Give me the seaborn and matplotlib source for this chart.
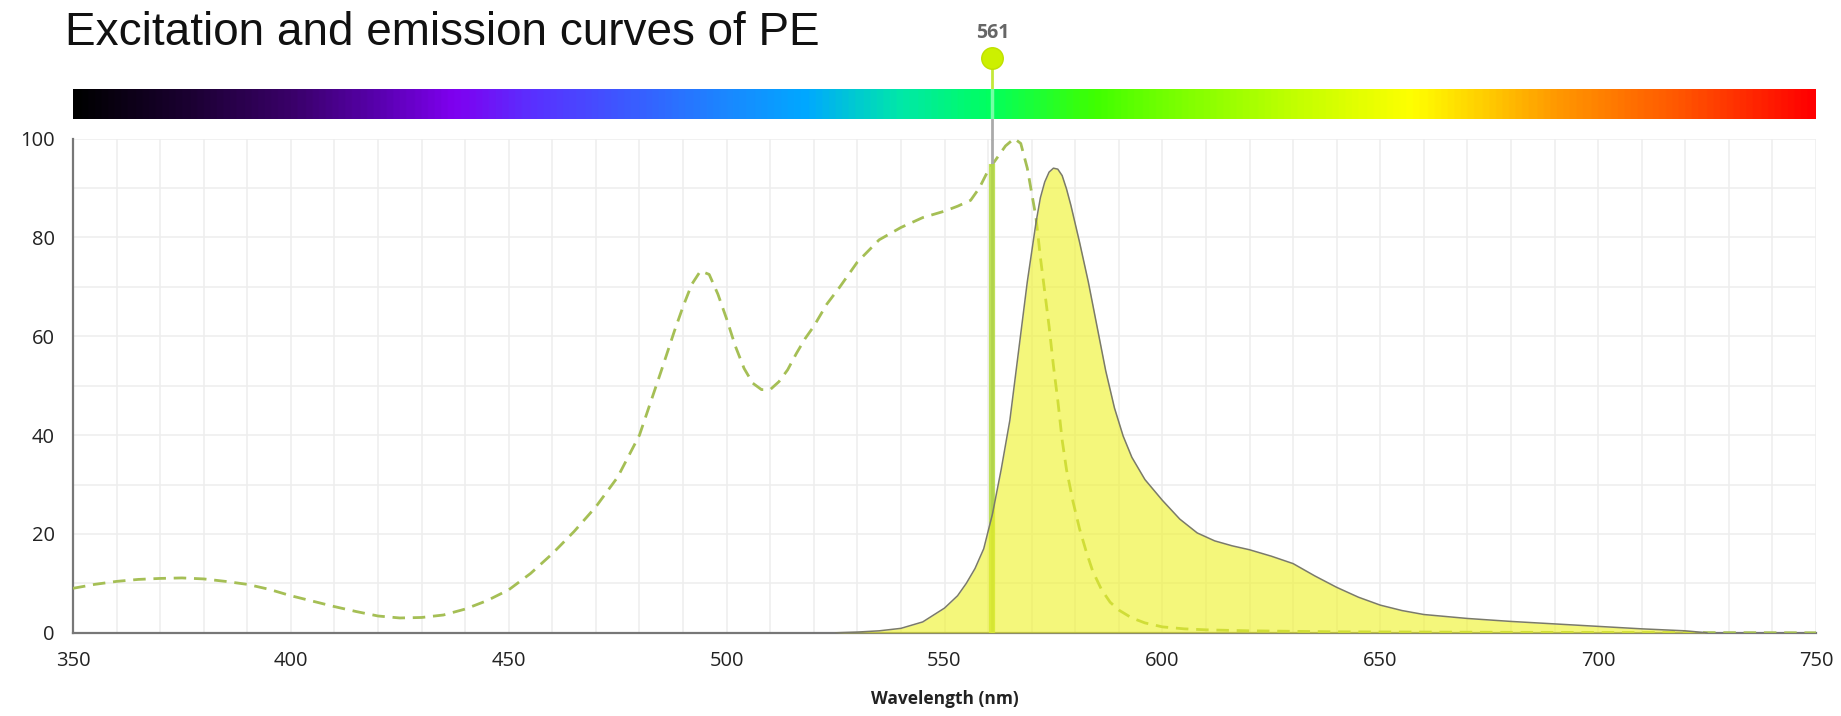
import numpy as np
import pandas as pd
import matplotlib
matplotlib.use("Agg")
import matplotlib.pyplot as plt
from matplotlib.colors import LinearSegmentedColormap
from matplotlib.ticker import MultipleLocator
import seaborn as sns

# ---------------- data ----------------
title = "Excitation and emission curves of PE"
x_label = "Wavelength (nm)"
laser_nm = 561
laser_label = "561"

ex_nm = [350, 355, 360, 365, 370, 375, 380, 385, 390, 395, 400, 405, 410, 415,
         420, 425, 430, 435, 440, 445, 450, 455, 460, 465, 470, 475, 480, 485,
         488, 490, 492, 494, 496, 498, 500, 502, 504, 506, 508, 510, 512, 514,
         516, 518, 520, 523, 526, 530, 535, 540, 545, 550, 553, 556, 558, 560,
         562, 564, 566, 567.5, 569, 570, 571, 572, 573, 574, 575, 576, 577, 578,
         579.5, 581, 582.5, 584, 586, 588, 590, 593, 596, 600, 605, 610, 620,
         640, 680, 750]
ex_val = [9.0, 9.8, 10.4, 10.8, 11.0, 11.1, 10.9, 10.4, 9.8, 8.8, 7.5, 6.4, 5.3, 4.3,
          3.4, 3.0, 3.1, 3.6, 4.8, 6.5, 8.7, 12.0, 16.0, 20.5, 25.5, 31.5, 40.0, 53.0,
          61.0, 66.0, 70.5, 73.2, 72.5, 68.5, 63.5, 58.0, 53.5, 50.5, 49.2, 49.2, 50.8, 53.2,
          56.5, 59.5, 62.0, 66.5, 70.0, 75.0, 79.5, 82.0, 84.0, 85.3, 86.3, 87.5, 90.0, 93.5,
          96.0, 98.5, 100.0, 99.0, 94.0, 89.0, 84.0, 76.0, 69.0, 62.0, 54.0, 47.0, 39.0, 33.0,
          26.5, 21.0, 16.5, 12.5, 8.8, 6.2, 4.6, 3.0, 2.0, 1.2, 0.8, 0.6, 0.4,
          0.2, 0.1, 0.0]

em_nm = [525, 530, 535, 540, 545, 550, 553, 555, 557, 559, 561, 563, 565, 567, 569,
         571, 572, 573, 574, 575, 576, 577, 578, 579, 581, 583, 585, 587, 589, 591,
         593, 596, 600, 604, 608, 612, 616, 620, 625, 630, 635, 640, 645, 650, 655,
         660, 670, 680, 690, 700, 710, 720, 725]
em_val = [0.0, 0.15, 0.4, 0.9, 2.2, 5.0, 7.5, 10.0, 13.0, 17.0, 24.0, 33.0, 43.0, 57.0, 71.0,
          83.0, 88.0, 91.2, 93.2, 94.0, 93.8, 92.5, 89.8, 86.5, 79.0, 71.0, 62.0, 53.0, 45.5, 39.8,
          35.5, 31.0, 26.8, 23.0, 20.2, 18.6, 17.6, 16.8, 15.5, 14.0, 11.5, 9.2, 7.2, 5.6, 4.5,
          3.7, 2.9, 2.3, 1.8, 1.3, 0.8, 0.4, 0.0]

x_ticks = [350, 400, 450, 500, 550, 600, 650, 700, 750]
y_ticks = [0, 20, 40, 60, 80, 100]

spectrum_pos = [0.0, 0.0625, 0.125, 0.175, 0.2175, 0.2625, 0.32, 0.375, 0.42, 0.475,
                0.525, 0.5875, 0.625, 0.7, 0.77, 0.8125, 0.8525, 0.925, 1.0]
spectrum_col = ["#000000", "#1a0030", "#3a006a", "#5a00b0", "#7f00f0", "#5a30ff",
                "#3a5cff", "#1a88ff", "#00a8ff", "#00e8a8", "#00ff60", "#40ff00",
                "#70ff00", "#c0ff00", "#ffff00", "#ffcc00", "#ff9900", "#ff5500", "#ff0000"]

ex_df = pd.DataFrame({"nm": ex_nm, "val": ex_val})
em_df = pd.DataFrame({"nm": em_nm, "val": em_val})

# ---------------- style ----------------
sns.set_theme(style="white")
plt.rcParams["font.family"] = ["Open Sans", "DejaVu Sans"]

W, H = 1841, 716
fig = plt.figure(figsize=(W / 100, H / 100), dpi=100)

ax_l, ax_r = 73 / W, 1816 / W
ax_b, ax_t = 1 - 632.8 / H, 1 - 138.5 / H
ax = fig.add_axes([ax_l, ax_b, ax_r - ax_l, ax_t - ax_b])

# spectrum bar
cb_top, cb_bot = 88.5 / H, 119 / H
cax = fig.add_axes([ax_l, 1 - cb_bot, ax_r - ax_l, cb_bot - cb_top])
cmap = LinearSegmentedColormap.from_list("spec", list(zip(spectrum_pos, spectrum_col)))
grad = np.linspace(0, 1, 800).reshape(1, -1)
cax.imshow(grad, aspect="auto", cmap=cmap, extent=[350, 750, 0, 1])
cax.set_xlim(350, 750)
cax.set_axis_off()
cax.axvline(laser_nm, color="white", alpha=0.45, lw=2.5)

# grid
ax.set_xlim(350, 750)
ax.set_ylim(0, 100)
ax.xaxis.set_minor_locator(MultipleLocator(10))
ax.yaxis.set_minor_locator(MultipleLocator(10))
ax.grid(which="both", color="#eeeeee", lw=1.1)
ax.set_axisbelow(True)

# excitation (dashed)
sns.lineplot(data=ex_df, x="nm", y="val", ax=ax, color="#a5bf55", lw=2.0,
             linestyle=(0, (4.5, 2.8)), zorder=3)

# laser line
ax.plot([laser_nm, laser_nm], [0, 100], color="#aaaaaa", lw=2.0, zorder=3.5,
        solid_capstyle="butt")
ex_at_laser = float(np.interp(laser_nm, ex_nm, ex_val))
ax.plot([laser_nm, laser_nm], [0, ex_at_laser], color="#b4dc3c", lw=4.5, alpha=0.85,
        zorder=3.6, solid_capstyle="butt")

# emission (filled)
ax.fill_between(em_nm, em_val, 0, color="#eef224", alpha=0.6, lw=0, zorder=4)
sns.lineplot(data=em_df, x="nm", y="val", ax=ax, color="#7a7a6a", lw=1.1, zorder=5)

# laser stem / marker above the plot
tr = ax.get_xaxis_transform()
def yfrac(py):
    return (632.8 - py) / (632.8 - 138.5)
ax.plot([laser_nm, laser_nm], [yfrac(138.5), yfrac(119)], color="#aaaaaa", lw=2.0,
        transform=tr, clip_on=False, zorder=6)
ax.plot([laser_nm, laser_nm], [yfrac(88.5), yfrac(60)], color="#c4e83a", lw=2.0,
        transform=tr, clip_on=False, zorder=6)
ax.plot([laser_nm], [yfrac(58)], marker="o", markersize=15.5, color="#ccf000",
        markeredgecolor="#bfe000", transform=tr, clip_on=False, zorder=7)
ax.text(laser_nm, yfrac(33), laser_label, transform=tr, ha="center", va="center",
        fontsize=14, fontweight="bold", color="#666666", clip_on=False)

# axes styling
for s in ["top", "right"]:
    ax.spines[s].set_visible(False)
for s in ["left", "bottom"]:
    ax.spines[s].set_color("#777777")
    ax.spines[s].set_linewidth(1.6)
ax.set_xticks(x_ticks)
ax.set_yticks(y_ticks)
ax.set_xticklabels([str(t) for t in x_ticks])
ax.set_yticklabels([str(t) for t in y_ticks])
ax.tick_params(axis="both", which="major", direction="out", length=7, width=1.5,
               color="#999999", labelsize=14.5, labelcolor="#222222", pad=6)
ax.tick_params(axis="both", which="minor", length=0)
ax.set_xlabel(x_label, fontsize=12.5, fontweight="bold", color="#222222", labelpad=14)
ax.set_ylabel("")

fig.text(65 / W, 1 - 45 / H, title, fontsize=33, color="#111111",
         family=["Liberation Sans", "DejaVu Sans"], ha="left", va="baseline")

fig.savefig("out.png", dpi=100)
